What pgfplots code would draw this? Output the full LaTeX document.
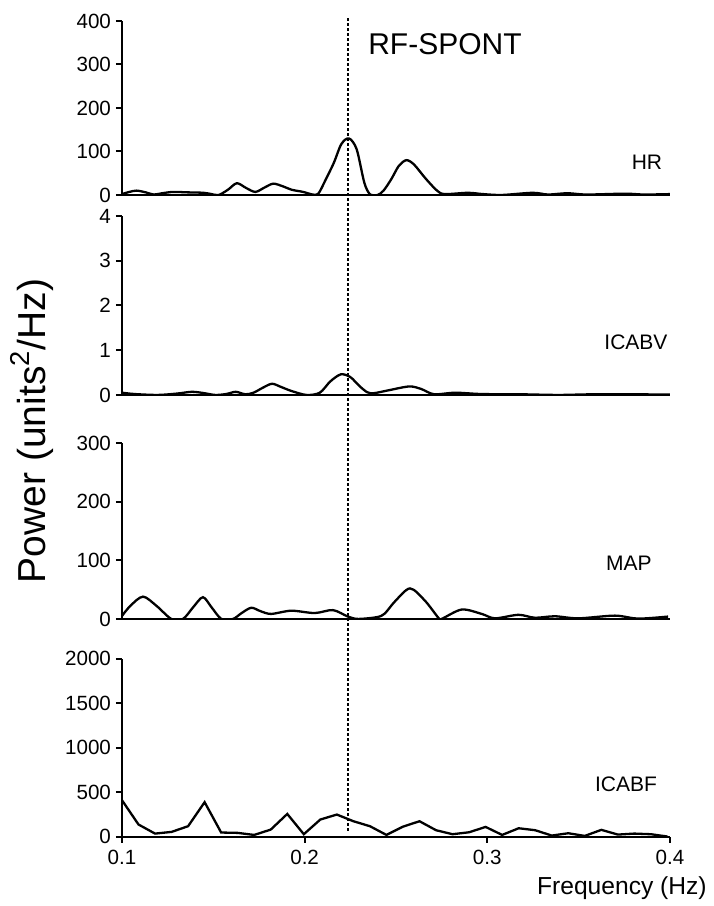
\documentclass[border=0pt]{standalone}
\usepackage{fontspec}
\setmainfont{Liberation Sans}
\usepackage{pgfplots}
\pgfplotsset{compat=1.18}
\pgfplotsset{
  panel/.style={
    scale only axis, width=274pt, xmin=0.1, xmax=0.4, ymin=0,
    axis x line*=bottom, axis y line*=left,
    axis line style={line width=1pt},
    tick style={line width=1pt, black}, tick align=outside,
    major tick length=3pt,
    every tick label/.append style={font=\fontsize{10.3}{12}\selectfont},
    yticklabel style={xshift=1pt},
    /pgf/number format/assume math mode=true,
    /pgf/number format/1000 sep={},
    scaled y ticks=false,
    anchor=south west, clip=true,
  },
  curve/.style={black, line width=1.15pt, smooth, tension=0.5, no marks},
}
\begin{document}
\begin{tikzpicture}
\path (0,0) rectangle (356.5pt,-453pt);
% HR
\begin{axis}[panel, at={(61pt,-97.5pt)}, height=87pt, ymax=400, ytick={0,100,200,300,400}, xtick=\empty]
\addplot[curve] coordinates {(0.100,2) (0.104,7) (0.108,10) (0.113,6) (0.1174,1) (0.122,4) (0.128,7) (0.136,6) (0.1447,5) (0.149,2) (0.153,0) (0.158,12) (0.1629,27) (0.168,16) (0.173,7) (0.178,17) (0.1828,26) (0.188,20) (0.1929,12) (0.1992,7) (0.2044,1) (0.2075,3) (0.2115,35) (0.216,74) (0.2201,117) (0.2243,130) (0.2285,105) (0.2327,28) (0.2359,1) (0.240,0) (0.2432,10) (0.2474,36) (0.2516,67) (0.2557,80) (0.2599,70) (0.2662,38) (0.2725,10) (0.2767,2) (0.2893,5) (0.2977,2) (0.308,0) (0.3249,5) (0.3333,1) (0.3438,4) (0.3543,1) (0.3753,3) (0.3857,1) (0.4,2)};
\end{axis}
% ICABV
\begin{axis}[panel, at={(61pt,-197.5pt)}, height=89.5pt, ymax=4, ytick={0,1,2,3,4}, xtick=\empty]
\addplot[curve] coordinates {(0.100,0.05) (0.107,0.02) (0.1195,0) (0.130,0.03) (0.1383,0.07) (0.145,0.04) (0.151,0) (0.157,0.02) (0.1623,0.07) (0.1675,0.015) (0.172,0.05) (0.1775,0.17) (0.1822,0.25) (0.187,0.18) (0.1927,0.09) (0.201,0) (0.2083,0.05) (0.214,0.3) (0.2198,0.46) (0.2250,0.40) (0.2300,0.2) (0.2343,0.06) (0.238,0.04) (0.2455,0.1) (0.2573,0.19) (0.264,0.13) (0.2709,0.015) (0.2824,0.05) (0.297,0.02) (0.318,0.015) (0.339,0) (0.36,0.015) (0.4,0.01)};
\end{axis}
% MAP
\begin{axis}[panel, at={(61pt,-309.5pt)}, height=88pt, ymax=300, ytick={0,100,200,300}, xtick=\empty]
\addplot[curve] coordinates {(0.100,5) (0.1045,22) (0.1115,38) (0.119,22) (0.127,0) (0.1334,0) (0.139,20) (0.1443,37) (0.149,20) (0.1544,0) (0.1608,0) (0.1655,10) (0.1708,19) (0.176,13) (0.1817,8.5) (0.1927,14) (0.2055,10) (0.2155,15) (0.2237,4) (0.2292,0) (0.2395,3) (0.2438,9) (0.2495,30) (0.2577,52) (0.2659,31) (0.2732,2) (0.275,0) (0.286,16) (0.297,8.5) (0.3042,1) (0.317,7) (0.3261,2) (0.337,4.5) (0.3498,1) (0.3699,5.6) (0.3825,0.5) (0.399,4)};
\end{axis}
% ICABF
\begin{axis}[panel, at={(61pt,-418.5pt)}, height=89pt, ymax=2000, ytick={0,500,1000,1500,2000},
  xtick={0.1,0.2,0.3,0.4}, xticklabels={0.1,0.2,0.3,0.4}]
\addplot[black, line width=1.15pt, no marks] coordinates {(0.1000,412) (0.10905,139) (0.1181,37) (0.12715,56) (0.1362,120) (0.14525,390) (0.1543,49) (0.16335,45) (0.1724,22) (0.18145,82) (0.1905,258) (0.19955,30) (0.2086,195) (0.21765,251) (0.2267,176) (0.23575,120) (0.2448,22) (0.25385,115) (0.2629,176) (0.27195,75) (0.281,30) (0.29005,52) (0.2991,112) (0.30815,22) (0.3172,97) (0.32625,75) (0.3353,15) (0.34435,41) (0.3534,11) (0.36245,79) (0.3715,26) (0.38055,37) (0.3896,30) (0.39865,4)};
\end{axis}
% dashed reference line
\begin{axis}[scale only axis, hide axis, width=274pt, height=406.5pt, at={(61pt,-415.5pt)}, anchor=south west, xmin=0.1, xmax=0.4, ymin=0, ymax=1]
\addplot[black, line width=1pt, dash pattern=on 1.5pt off 1pt] coordinates {(0.2235,0) (0.2235,1)};
\end{axis}
\node[font=\fontsize{15}{18}\selectfont] at (222.5pt,-22pt) {RF-SPONT};
\node[font=\fontsize{10.5}{12}\selectfont] at (323.5pt,-81pt) {HR};
\node[font=\fontsize{10.5}{12}\selectfont] at (318pt,-171pt) {ICABV};
\node[font=\fontsize{10.5}{12}\selectfont] at (314.5pt,-281.5pt) {MAP};
\node[font=\fontsize{10.5}{12}\selectfont] at (313pt,-392pt) {ICABF};
\node[font=\fontsize{12.3}{14}\selectfont] at (311pt,-444pt) {Frequency (Hz)};
\node[font=\fontsize{19.5}{22}\selectfont, rotate=90] at (16pt,-215.5pt) {Power (units\textsuperscript{2}/Hz)};
\end{tikzpicture}
\end{document}
